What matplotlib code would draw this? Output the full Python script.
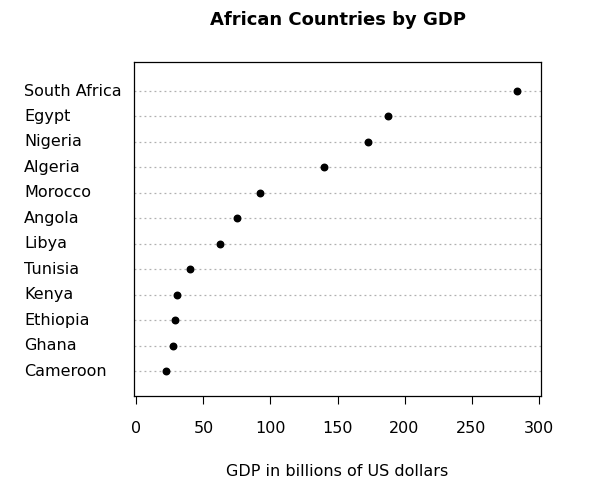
import matplotlib.pyplot as plt

countries = ["South Africa", "Egypt", "Nigeria", "Algeria", "Morocco", "Angola",
             "Libya", "Tunisia", "Kenya", "Ethiopia", "Ghana", "Cameroon"]
gdp = [284, 188, 173, 140, 92, 75, 62, 40, 30, 29, 27, 22]

fig = plt.figure(figsize=(6, 5.04), dpi=100)
ax = fig.add_axes([0.223, 0.214, 0.679, 0.663])

n = len(countries)
ypos = list(range(n, 0, -1))
for y in ypos:
    ax.axhline(y, color="#b0b0b0", linestyle=(0, (1.5, 2.5)), linewidth=0.9, zorder=1)
ax.scatter(gdp, ypos, s=22, color="black", zorder=3)

ax.set_xlim(-2, 302)
ax.set_ylim(0.02, 13.14)
ax.set_yticks([])
ax.set_xticks([0, 50, 100, 150, 200, 250, 300])
ax.tick_params(axis="x", direction="out", length=6, pad=12, labelsize=11.5)
for s in ax.spines.values():
    s.set_linewidth(0.9)

for name, y in zip(countries, ypos):
    ax.text(24 / 600, y, name, transform=ax.get_yaxis_transform().__class__(fig.transFigure, ax.transData),
            ha="left", va="center", fontsize=11.5)

fig.text(0.5 * (0.223 + 0.902), 1 - 20 / 504, "African Countries by GDP",
         ha="center", va="center", fontsize=13, fontweight="bold")
fig.text(0.5 * (0.223 + 0.902), 1 - 472 / 504, "GDP in billions of US dollars",
         ha="center", va="center", fontsize=11.5)

fig.savefig("out.png", dpi=100)
